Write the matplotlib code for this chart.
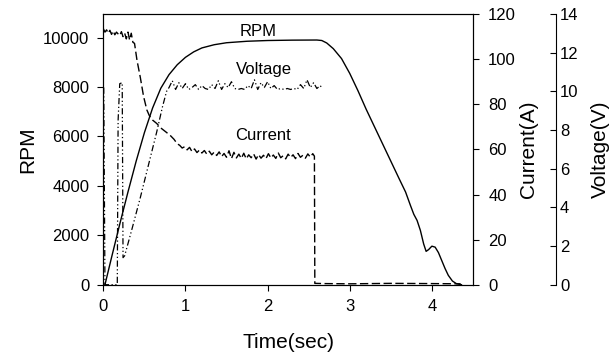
import matplotlib
matplotlib.use('Agg')
import matplotlib.pyplot as plt

plt.rcParams['font.family'] = ['Liberation Sans', 'DejaVu Sans']

# RPM trace (solid)
rpm_t = [0.02, 0.1, 0.2, 0.3, 0.4, 0.5, 0.6, 0.7, 0.8, 0.9, 1.0, 1.1, 1.2, 1.35, 1.5,
         1.75, 2.0, 2.3, 2.6, 2.66, 2.72, 2.8, 2.9, 3.0, 3.1, 3.2, 3.3, 3.4, 3.5, 3.6,
         3.68, 3.74, 3.78, 3.82, 3.86, 3.9, 3.93, 3.96, 4.0, 4.04, 4.08, 4.12, 4.16,
         4.2, 4.25, 4.3, 4.36]
rpm = [0, 1100, 2450, 3750, 5000, 6150, 7150, 7950, 8500, 8900, 9200, 9420, 9580, 9710, 9790,
       9850, 9880, 9895, 9900, 9880, 9780, 9550, 9150, 8550, 7850, 7100, 6400, 5700, 5000, 4300,
       3750, 3200, 2850, 2600, 2200, 1650, 1350, 1420, 1560, 1520, 1300, 980, 660,
       380, 150, 40, 0]

# Current trace (dashed)
cur_t = [0.00, 0.02, 0.04, 0.06, 0.08, 0.10, 0.12, 0.14, 0.16, 0.18, 0.20, 0.22, 0.24, 0.26,
         0.28, 0.30, 0.32, 0.34, 0.36, 0.38, 0.41, 0.45, 0.49, 0.53, 0.56, 0.60, 0.65, 0.70,
         0.77, 0.82, 0.86, 0.90, 0.93, 0.96, 0.99, 1.02, 1.05, 1.08, 1.11, 1.14, 1.17, 1.20,
         1.23, 1.26, 1.29, 1.32, 1.35, 1.38, 1.41, 1.44, 1.47, 1.50, 1.53, 1.56, 1.59, 1.62,
         1.65, 1.68, 1.71, 1.74, 1.77, 1.80, 1.83, 1.86, 1.89, 1.92, 1.95, 1.98, 2.01, 2.04,
         2.07, 2.10, 2.13, 2.16, 2.19, 2.22, 2.25, 2.28, 2.31, 2.34, 2.37, 2.40, 2.43, 2.46,
         2.49, 2.52, 2.55, 2.57, 2.575, 2.7, 3.0, 3.5, 4.0, 4.35]
current = [113.5, 112.0, 113.0, 111.5, 112.8, 111.0, 112.5, 110.8, 112.0, 111.2, 110.5, 112.2,
           110.0, 111.5, 109.0, 112.0, 108.5, 111.5, 107.5, 107.0, 99.5, 92.0, 83.5, 77.5, 75.0,
           73.0, 71.5, 69.5, 67.5, 66.0, 64.5, 62.5, 61.8, 60.6, 61.2, 59.8, 60.9, 59.0, 60.2,
           58.6, 59.7, 58.4, 59.5, 57.9, 59.2, 57.6, 58.8, 57.3, 58.9, 56.8, 58.2, 56.5, 59.4,
           55.9, 58.7, 56.2, 57.9, 56.0, 58.3, 55.8, 57.6, 56.3, 58.0, 55.7, 57.7, 56.1, 57.4,
           55.9, 58.1, 56.2, 57.5, 56.0, 58.4, 56.3, 57.2, 55.8, 57.9, 56.4, 57.6, 55.9, 58.2,
           56.5, 57.4, 56.1, 58.0, 56.6, 58.1, 57.0, 0.6, 0.5, 0.4, 0.6, 0.5, 0.4]

# Voltage trace (dash-dot-dot)
volt_t = [0.005, 0.02, 0.17, 0.18, 0.20, 0.23, 0.24, 0.26, 0.35, 0.45, 0.55, 0.65, 0.72, 0.77,
          0.80, 0.84, 0.88, 0.92, 0.96, 1.00, 1.04, 1.08, 1.12, 1.16, 1.20, 1.24, 1.28, 1.32,
          1.36, 1.40, 1.44, 1.48, 1.52, 1.56, 1.60, 1.64, 1.68, 1.72, 1.76, 1.80, 1.84, 1.88,
          1.92, 1.96, 2.00, 2.04, 2.08, 2.12, 2.16, 2.20, 2.24, 2.28, 2.32, 2.36, 2.40, 2.44,
          2.48, 2.52, 2.56, 2.60, 2.64, 2.67]
voltage = [10.2, 0.0, 0.0, 8.5, 10.4, 10.45, 1.4, 1.5, 2.9, 4.5, 6.2, 7.9, 9.2, 10.0,
           10.2, 10.55, 10.1, 10.45, 10.15, 10.4, 10.1, 10.2, 10.35, 10.1, 10.3, 10.15, 10.1, 10.35,
           10.15, 10.55, 10.1, 10.4, 10.2, 10.5, 10.15, 10.1, 10.15, 10.1, 10.3, 10.15, 10.6, 10.1,
           10.45, 10.2, 10.5, 10.15, 10.3, 10.1, 10.15, 10.1, 10.15, 10.1, 10.15, 10.1, 10.35, 10.15,
           10.6, 10.2, 10.45, 10.15, 10.3, 10.15]

fig = plt.figure(figsize=(6.15, 3.58), dpi=100)
ax = fig.add_axes([0.168, 0.2047, 0.601, 0.756])
ax2 = ax.twinx()
ax3 = ax.twinx()

ax.plot(rpm_t, rpm, color='black', lw=1.0)
ax2.plot(cur_t, current, color='black', lw=1.0, dashes=(6, 2.5))
ax3.plot(volt_t, voltage, color='black', lw=0.9, dashes=(5, 2, 1, 2, 1, 2))

ax.set_xlim(0, 4.5)
ax.set_ylim(0, 10950)
ax2.set_ylim(0, 120)
ax3.set_ylim(0, 14)

ax.set_xticks([0, 1, 2, 3, 4])
ax.set_yticks([0, 2000, 4000, 6000, 8000, 10000])
ax2.set_yticks([0, 20, 40, 60, 80, 100, 120])
ax3.set_yticks([0, 2, 4, 6, 8, 10, 12, 14])

ax.tick_params(labelsize=12, length=4, width=0.8, pad=6)
ax2.tick_params(labelsize=12, length=4, width=0.8, pad=7)
ax3.tick_params(labelsize=12, length=4, width=0.8, pad=3, direction='in')

for a in (ax, ax2, ax3):
    for s in a.spines.values():
        s.set_linewidth(0.8)
for s in ('left', 'top', 'bottom'):
    ax3.spines[s].set_visible(False)
ax3.spines['right'].set_position(('axes', 1.2245))

ax.set_xlabel('Time(sec)', fontsize=15, labelpad=14)
ax.set_ylabel('RPM', fontsize=15, labelpad=4)
ax2.set_ylabel('Current(A)', fontsize=15, labelpad=2)
ax3.set_ylabel('Voltage(V)', fontsize=15, labelpad=9)

ax.text(1.88, 10050, 'RPM', fontsize=12, ha='center', va='baseline')
ax.text(1.95, 8545, 'Voltage', fontsize=12, ha='center', va='baseline')
ax.text(1.95, 5850, 'Current', fontsize=12, ha='center', va='baseline')

fig.savefig('out.png', dpi=100)
